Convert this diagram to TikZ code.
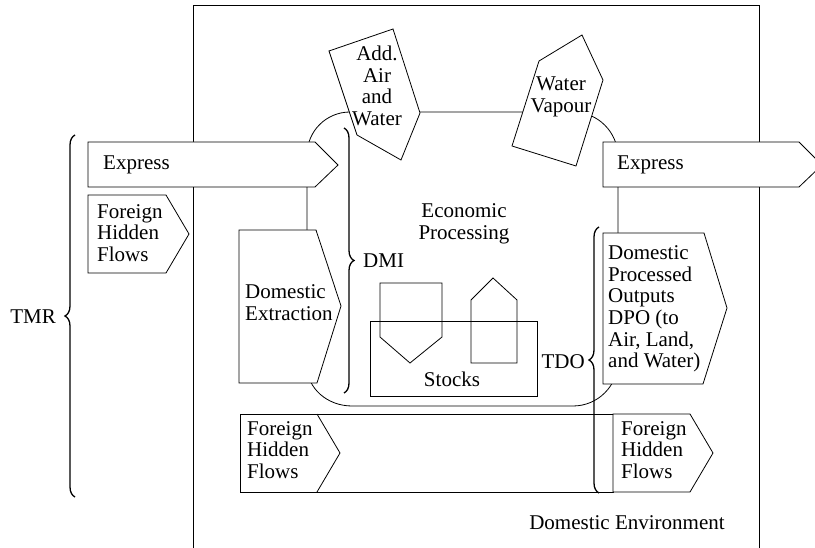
\documentclass[tikz,border=0pt]{standalone}
\usepackage{fontspec}
\setmainfont{Liberation Serif}
\usetikzlibrary{decorations.pathreplacing}
\begin{document}
\begin{tikzpicture}[x=1pt,y=-1pt,
  shp/.style={draw=black, fill=white, line width=0.8pt, line join=miter},
  ln/.style={draw=black, line width=0.8pt},
  txt/.style={inner sep=0pt, font=\rmfamily\fontsize{21}{21.7}\selectfont, align=left},
  brc/.style={draw=black, line width=1.3pt, decorate, decoration={brace, amplitude=10pt}}]
\useasboundingbox (0,0) rectangle (815,548);
% domestic environment frame
\draw[ln] (193,560) -- (193,5) -- (759,5) -- (759,560);
% economic processing region
\draw[ln] (350,112) -- (573,112) arc[start angle=-90, end angle=0, radius=45] -- (618,361)
  arc[start angle=0, end angle=90, radius=45] -- (352,406)
  arc[start angle=90, end angle=180, x radius=45, y radius=40] -- (307,155)
  arc[start angle=180, end angle=270, radius=43] -- cycle;
% inputs
\draw[shp] (88,142) -- (315,142) -- (338,165) -- (315,187) -- (88,187) -- cycle;
\draw[shp] (88,195) -- (166,195) -- (189,234) -- (166,273) -- (88,273) -- cycle;
\draw[shp] (239,230) -- (316,230) -- (341,306) -- (317,383) -- (239,383) -- cycle;
\draw[shp] (329,51) -- (393,29) -- (420,113) -- (401,160) -- (357,135) -- cycle;
\draw[shp] (539,61) -- (582,35) -- (603,80) -- (576,166) -- (512,146) -- cycle;
% outputs
\draw[shp] (603,142) -- (799,142) -- (822,165) -- (799,187) -- (603,187) -- cycle;
\draw[shp] (603,233) -- (704,233) -- (727,308) -- (703,384) -- (603,384) -- cycle;
% bottom hidden flows
\draw[shp] (240,414) rectangle (613,492);
\draw[ln] (317,414) -- (340,453) -- (317,492);
\draw[shp] (613,414) -- (690,414) -- (713,453) -- (690,492) -- (613,492) -- cycle;
% stocks
\draw[ln] (370,321) rectangle (537,396);
\draw[ln] (380,283) -- (442,283) -- (442,337) -- (410,363) -- (380,337) -- cycle;
\draw[ln] (471,363) -- (471,300) -- (493,278) -- (517,300) -- (517,363) -- cycle;
% braces
\draw[brc] (75,497) -- (75,135);
\draw[brc] (344,128) -- (344,393);
\draw[brc] (599,493) -- (599,227);
% texts
\node[txt, anchor=west] (tExpL) at (103,165) {Express};
\node[txt, anchor=west] (tFHF1) at (97,233) {Foreign\\Hidden\\Flows};
\node[txt, anchor=west] (tDE) at (245,303) {Domestic\\Extraction};
\node[txt, align=center] (tAdd) at (377,86) {Add.\\Air\\and\\Water};
\node[txt, align=center] (tWV) at (561,97) {Water\\Vapour};
\node[txt, anchor=west] (tExpR) at (617,165) {Express};
\node[txt, anchor=west] (tDPO) at (608,309) {Domestic\\Processed\\Outputs\\DPO (to\\Air, Land,\\and Water)};
\node[txt, align=center] (tEP) at (464,224) {Economic\\Processing};
\node[txt] (tStocks) at (452,379) {Stocks};
\node[txt, anchor=west] (tDMI) at (363,261) {DMI};
\node[txt, anchor=east] (tTDO) at (585,362) {TDO};
\node[txt, anchor=east] (tTMR) at (56,317) {TMR};
\node[txt, anchor=west] (tFHF2) at (247,450) {Foreign\\Hidden\\Flows};
\node[txt, anchor=west] (tFHF3) at (621,450) {Foreign\\Hidden\\Flows};
\node[txt] (tEnv) at (627,523) {Domestic Environment};
\end{tikzpicture}
\end{document}
